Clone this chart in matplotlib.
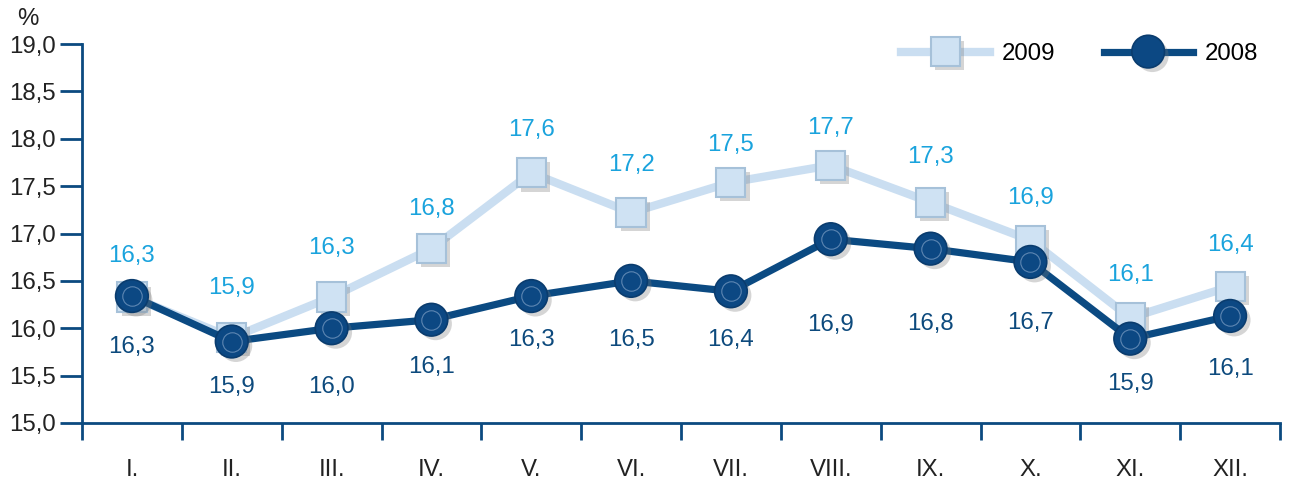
import matplotlib.pyplot as plt
import matplotlib.patheffects as pe

plt.rcParams['font.family'] = ['Liberation Sans', 'DejaVu Sans']

# data
months = ["I.", "II.", "III.", "IV.", "V.", "VI.", "VII.", "VIII.", "IX.", "X.", "XI.", "XII."]
y2009 = [16.33, 15.90, 16.33, 16.84, 17.64, 17.22, 17.54, 17.72, 17.33, 16.93, 16.11, 16.44]
y2008 = [16.34, 15.86, 16.00, 16.09, 16.34, 16.50, 16.39, 16.94, 16.84, 16.70, 15.89, 16.13]

# label offsets in pixels (hand placed in the original)
off2009 = [41, 50, 49, 40, 43, 48, 37, 37, 45, 42, 43, 42]
off2008 = [-51, -45, -59, -47, -44, -59, -49, -86, -75, -61, -45, -53]

FS = 17.3
c_axis = "#0b4a80"
c09_line = "#cadef1"
c09_face = "#cfe2f3"
c09_text = "#1aa3dd"
c08_line = "#0b4a82"
c08_text = "#0d4a7d"

fig = plt.figure(figsize=(12.98, 4.87), dpi=100)
ax = fig.add_axes([82 / 1298, 64 / 487, (1280 - 82) / 1298, (423 - 44) / 487])

x = [i + 0.5 for i in range(len(months))]
shadow = [pe.SimplePatchShadow(offset=(3, -3), shadow_rgbFace="#777777", alpha=0.3), pe.Normal()]

# 2009 series
ax.plot(x, y2009, color=c09_line, lw=6, solid_capstyle="butt", zorder=2)
ax.plot(x, y2009, ls="none", marker="s", ms=21, mfc=c09_face, mec="#a6c1d9", mew=1.5,
        zorder=3, path_effects=shadow)

# 2008 series
ax.plot(x, y2008, color=c08_line, lw=5.2, zorder=4)
ax.plot(x, y2008, ls="none", marker="o", ms=23.5, mfc="#0c4883", mec="#0a3c6e", mew=1.2,
        zorder=5, path_effects=shadow)
ax.plot(x, y2008, ls="none", marker="o", ms=14, mfc="none", mec="#5d86b2", mew=0.8, zorder=6)

for xi, v, o in zip(x, y2009, off2009):
    ax.annotate(f"{v:.1f}".replace(".", ","), (xi, v), xytext=(0, o), textcoords="offset pixels",
                ha="center", va="center", fontsize=FS, color=c09_text, zorder=7)
for xi, v, o in zip(x, y2008, off2008):
    ax.annotate(f"{v:.1f}".replace(".", ","), (xi, v), xytext=(0, o), textcoords="offset pixels",
                ha="center", va="center", fontsize=FS, color=c08_text, zorder=7)

ax.set_xlim(0, 12)
ax.set_ylim(15.0, 19.0)
yt = [15.0 + 0.5 * i for i in range(9)]
ax.set_yticks(yt)
ax.set_yticklabels([f"{v:.1f}".replace(".", ",") for v in yt])
ax.set_xticks(range(13))
ax.set_xticklabels([])
ax.set_xticks(x, minor=True)
ax.set_xticklabels(months, minor=True)

for s in ["top", "right"]:
    ax.spines[s].set_visible(False)
for s in ["left", "bottom"]:
    ax.spines[s].set_color(c_axis)
    ax.spines[s].set_linewidth(2)

ax.tick_params(axis="y", direction="out", length=16, width=2, color=c_axis, pad=3,
               labelsize=FS, labelcolor="#222222")
ax.tick_params(axis="x", which="major", direction="out", length=12, width=2, color=c_axis)
ax.tick_params(axis="x", which="minor", length=0, pad=26, labelsize=FS, labelcolor="#222222")

fig.text(28 / 1298, 1 - 19 / 487, "%", fontsize=FS, color="#222222", ha="center", va="center")

# legend
h09 = ax.plot([], [], color=c09_line, lw=6, marker="s", ms=21, mfc=c09_face, mec="#a6c1d9",
              mew=1.5, path_effects=shadow)[0]
h08 = ax.plot([], [], color=c08_line, lw=5.2, marker="o", ms=23.5, mfc="#0c4883", mec="#0a3c6e",
              mew=1.2, path_effects=shadow)[0]
ax.legend([h09, h08], ["2009", "2008"], loc="center right",
          bbox_to_anchor=(1258 / 1298, 1 - 54 / 487), bbox_transform=fig.transFigure, ncol=2,
          frameon=False, fontsize=FS, handlelength=3.7, columnspacing=2.0, handletextpad=0.5,
          borderpad=0, borderaxespad=0)

fig.savefig("out.png", dpi=100)
